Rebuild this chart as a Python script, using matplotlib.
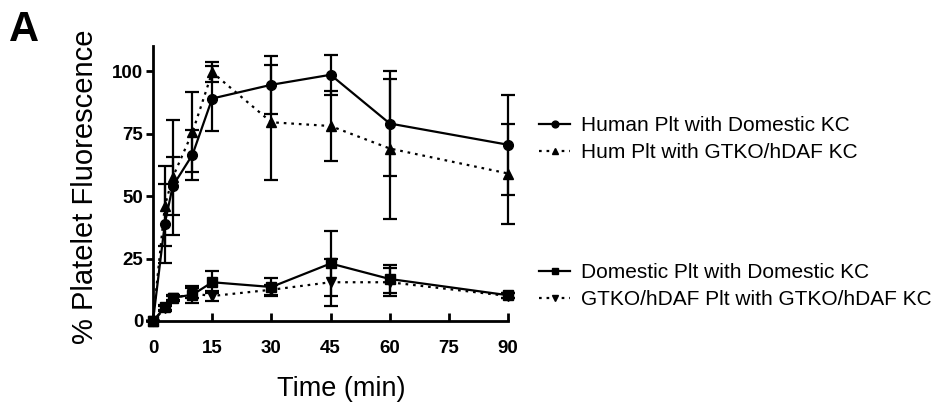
import matplotlib
matplotlib.use("Agg")
import matplotlib.pyplot as plt

plt.rcParams["font.family"] = ["Liberation Sans", "DejaVu Sans"]

# Time points (min)
time_min = [0, 3, 5, 10, 15, 30, 45, 60, 90]

# Mean % platelet fluorescence and SEM for each group
human_dom = [0, 39, 54, 66.5, 89, 94.5, 98.5, 79, 70.5]
human_dom_err = [0, 16, 11.5, 10, 13, 11.5, 8, 21, 20]
hum_gtko = [0, 46, 57.5, 75.5, 99.5, 79.5, 78, 69, 59]
hum_gtko_err = [0, 16, 23, 16, 4, 23, 14, 28, 20]
dom_dom = [0, 5.5, 9.3, 10.5, 15.5, 13.6, 23, 16.8, 10.3]
dom_dom_err = [0, 1, 1, 3.5, 4.5, 3.7, 13, 5.5, 1]
gtko_gtko = [0, 5, 9, 11, 10, 12.5, 15.5, 15.5, 10]
gtko_gtko_err = [0, 1, 1, 2, 2, 2, 9.5, 5.5, 1]

labels_top = ["Human Plt with Domestic KC", "Hum Plt with GTKO/hDAF KC"]
labels_bottom = ["Domestic Plt with Domestic KC", "GTKO/hDAF Plt with GTKO/hDAF KC"]

x_ticks = [0, 15, 30, 45, 60, 75, 90]
y_ticks = [0, 25, 50, 75, 100]

fig = plt.figure(figsize=(9.41, 4.11), dpi=100)
ax = fig.add_axes([0.1626, 0.219, 0.3774, 0.669])

dotted = (0, (1.2, 2.2))
series = [
    (human_dom, human_dom_err, "o", "-"),
    (hum_gtko, hum_gtko_err, "^", dotted),
    (dom_dom, dom_dom_err, "s", "-"),
    (gtko_gtko, gtko_gtko_err, "v", dotted),
]

handles = []
for values, errs, marker, ls in series:
    cont = ax.errorbar(time_min, values, yerr=errs, color="black", marker=marker,
                       markersize=7, linestyle=ls, linewidth=1.6, elinewidth=1.6,
                       capsize=5, capthick=1.6, clip_on=False)
    for artist in [cont[0], *cont[1], *cont[2]]:
        artist.set_clip_on(False)
    handles.append(cont[0])

ax.set_xlim(0, 90)
ax.set_ylim(0, 110)
ax.set_xticks(x_ticks)
ax.set_yticks(y_ticks)
ax.spines["top"].set_visible(False)
ax.spines["right"].set_visible(False)
ax.spines["left"].set_linewidth(2)
ax.spines["bottom"].set_linewidth(2)
ax.tick_params(axis="x", direction="in", length=6, width=2, labelsize=13.5, pad=14)
ax.tick_params(axis="y", direction="out", length=5, width=2, labelsize=13.5, pad=2)
for lbl in ax.get_xticklabels() + ax.get_yticklabels():
    lbl.set_fontweight("bold")

ax.set_xlabel("Time (min)", fontsize=19.5)
ax.xaxis.set_label_coords(0.53, -0.2)
ax.set_ylabel("% Platelet Fluorescence", fontsize=21)
ax.yaxis.set_label_coords(-0.152, 0.488)

fig.legend(handles[:2], labels_top, loc="center left",
           bbox_to_anchor=(0.553, 0.661), frameon=False, fontsize=15,
           handlelength=1.5, handletextpad=0.5, labelspacing=0.4,
           markerscale=0.7)
fig.legend(handles[2:], labels_bottom, loc="center left",
           bbox_to_anchor=(0.553, 0.304), frameon=False, fontsize=15,
           handlelength=1.5, handletextpad=0.5, labelspacing=0.4,
           markerscale=0.7)

fig.text(0.009, 0.975, "A", fontsize=30, fontweight="bold", va="top", ha="left")

fig.savefig("out.png", dpi=100)
